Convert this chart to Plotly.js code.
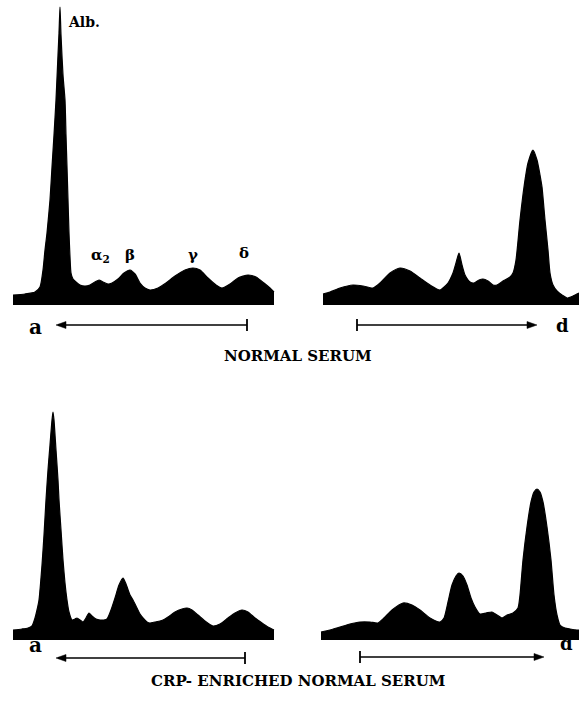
<!DOCTYPE html>
<html>
<head>
<meta charset="utf-8">
<script src="https://cdn.plot.ly/plotly-3.0.1.min.js"></script>
<style>html,body{margin:0;padding:0;background:#fff;}#chart{width:579px;height:707px;}</style>
</head>
<body>
<div id="chart"></div>
<script>
// Densitometer profiles (position along strip, optical density in arbitrary units)
const normalLeftX = [13,25,35,40,43,45,47,50,52,54,56,58,59,60,61,63,65,66,67,68,69,70,71,73,76,80,85,90,95,99,103,108,112,118,124,130,135,140,145,150,158,166,175,185,193,200,208,216,222,230,238,248,256,264,270,274];
const normalLeftY = [10,11,13,18,35,55,72,105,138,170,205,250,272,298,270,230,205,170,138,105,72,48,32,26,23,20,19,20,23,25,23,21,22,26,32,35,31,22,17,15,17,22,29,35,37,35,27,20,17,21,27,30,28,22,17,13];

const normalRightX = [323,330,340,353,363,373,380,390,400,410,420,430,440,448,453,456,459,462,465,470,474,479,483,488,493,497,503,510,513,516,520,524,528,533,537,540,542,545,548,550,553,557,562,567,573,579];
const normalRightY = [11,13,17,20,19,17,22,32,37,34,27,20,15,22,32,42,52,40,30,23,22,25,26,24,20,20,24,28,32,45,85,118,142,155,145,130,118,85,55,32,20,14,10,7,9,12];

const crpLeftX = [13,22,28,32,35,37,39,42,44,46,48,50,52,53,54,56,58,59,61,63,65,67,69,72,75,77,80,83,86,89,92,96,100,104,107,111,115,119,123,126,130,133,136,140,143,147,150,155,160,163,168,175,182,187,192,198,205,213,220,228,235,242,248,255,262,268,274];
const crpLeftY = [10,11,12,14,22,30,40,75,105,140,170,195,220,228,220,190,160,140,110,80,57,40,28,20,21,22,20,18,22,27,24,21,20,20,21,30,42,55,62,56,45,40,34,26,22,18,17,18,19,20,23,28,31,32,30,25,19,14,16,22,27,30,28,22,17,13,10];

const crpRightX = [321,330,340,350,360,370,378,384,392,403,412,420,430,440,444,448,452,456,459,463,467,471,475,480,486,492,497,502,507,513,518,520,523,527,531,534,537,540,543,547,551,554,557,560,565,570,577,579];
const crpRightY = [8,10,13,16,18,18,17,22,30,37,35,30,22,18,22,38,55,64,67,64,55,42,33,26,27,28,25,22,25,27,32,45,80,113,138,148,151,148,138,113,80,45,25,15,12,11,10,10];

const fractionLabels = ["α<sub>2</sub>", "β", "γ", "δ"];
const fractionX = [100, 130, 193, 244];
const fractionY = [50, 50, 50, 52];
const panelTitles = ["NORMAL SERUM", "CRP- ENRICHED NORMAL SERUM"];

const H = 707, W = 579;
const py = p => 1 - p / H;

function area(x, y, ya) {
  return {x: x, y: y, xaxis: 'x', yaxis: ya, type: 'scatter', mode: 'lines',
    fill: 'tozeroy', fillcolor: '#000', line: {color: '#000', width: 1.2, shape: 'spline', smoothing: 0.6},
    hoverinfo: 'skip', showlegend: false};
}

const data = [
  area(normalLeftX, normalLeftY, 'y'),
  area(normalRightX, normalRightY, 'y'),
  area(crpLeftX, crpLeftY, 'y2'),
  area(crpRightX, crpRightY, 'y2')
];

const serif = 'DejaVu Serif, Liberation Serif, serif';
const annotations = [];
annotations.push({x: 66, y: 283, xref: 'x', yref: 'y', text: '<b>Alb.</b>', showarrow: false, xanchor: 'left',
  font: {family: serif, size: 14, color: '#000'}});
fractionLabels.forEach((t, i) => annotations.push({x: fractionX[i], y: fractionY[i], xref: 'x', yref: 'y', text: '<b>' + t + '</b>',
  showarrow: false, font: {family: serif, size: 15, color: '#000'}}));

const letter = (t, x, p, s) => ({x: x, y: py(p), xref: 'x', yref: 'paper', text: '<b>' + t + '</b>', showarrow: false,
  font: {family: serif, size: s, color: '#000'}});
annotations.push(letter('a', 35, 327, 20));
annotations.push(letter('d', 562, 325, 18));
annotations.push(letter('a', 35, 659, 20));
annotations.push(letter('d', 566, 656, 18));

annotations.push({x: 298 / W, y: py(356), xref: 'paper', yref: 'paper', text: '<b>' + panelTitles[0] + '</b>', showarrow: false,
  font: {family: serif, size: 15, color: '#000'}});
annotations.push({x: 298 / W, y: py(692), xref: 'paper', yref: 'paper', text: '<b>' + panelTitles[1] + '</b>', showarrow: false,
  font: {family: serif, size: 15, color: '#000'}});

const line = (xa, xb, p) => ({type: 'line', xref: 'x', yref: 'paper', x0: xa, x1: xb, y0: py(p), y1: py(p),
  line: {color: '#000', width: 1.4}});
const tick = (x, p) => ({type: 'line', xref: 'x', yref: 'paper', x0: x, x1: x, y0: py(p - 6), y1: py(p + 6),
  line: {color: '#000', width: 1.8}});
const head = (xt, dir, p) => ({type: 'path', xref: 'x', yref: 'paper',
  path: `M ${xt},${py(p)} L ${xt + dir * 10},${py(p - 3.5)} L ${xt + dir * 10},${py(p + 3.5)} Z`,
  fillcolor: '#000', line: {color: '#000', width: 0.5}});
const shapes = [
  line(58, 247, 325), tick(247, 325), head(56, 1, 325),
  line(357, 533, 325), tick(357, 325), head(537, -1, 325),
  line(58, 245, 658), tick(245, 658), head(56, 1, 658),
  line(360, 540, 657), tick(360, 657), head(544, -1, 657)
];

const layout = {
  width: W, height: H, margin: {l: 0, r: 0, t: 0, b: 0},
  paper_bgcolor: '#fff', plot_bgcolor: 'rgba(0,0,0,0)', showlegend: false,
  xaxis: {range: [0, 579], domain: [0, 1], visible: false, fixedrange: true},
  yaxis: {range: [0, 305], domain: [py(305), 1], visible: false, fixedrange: true},
  yaxis2: {range: [0, 305], domain: [py(640), py(335)], visible: false, fixedrange: true},
  annotations: annotations, shapes: shapes
};

Plotly.newPlot('chart', data, layout, {displayModeBar: false, staticPlot: true});
</script>
</body>
</html>
